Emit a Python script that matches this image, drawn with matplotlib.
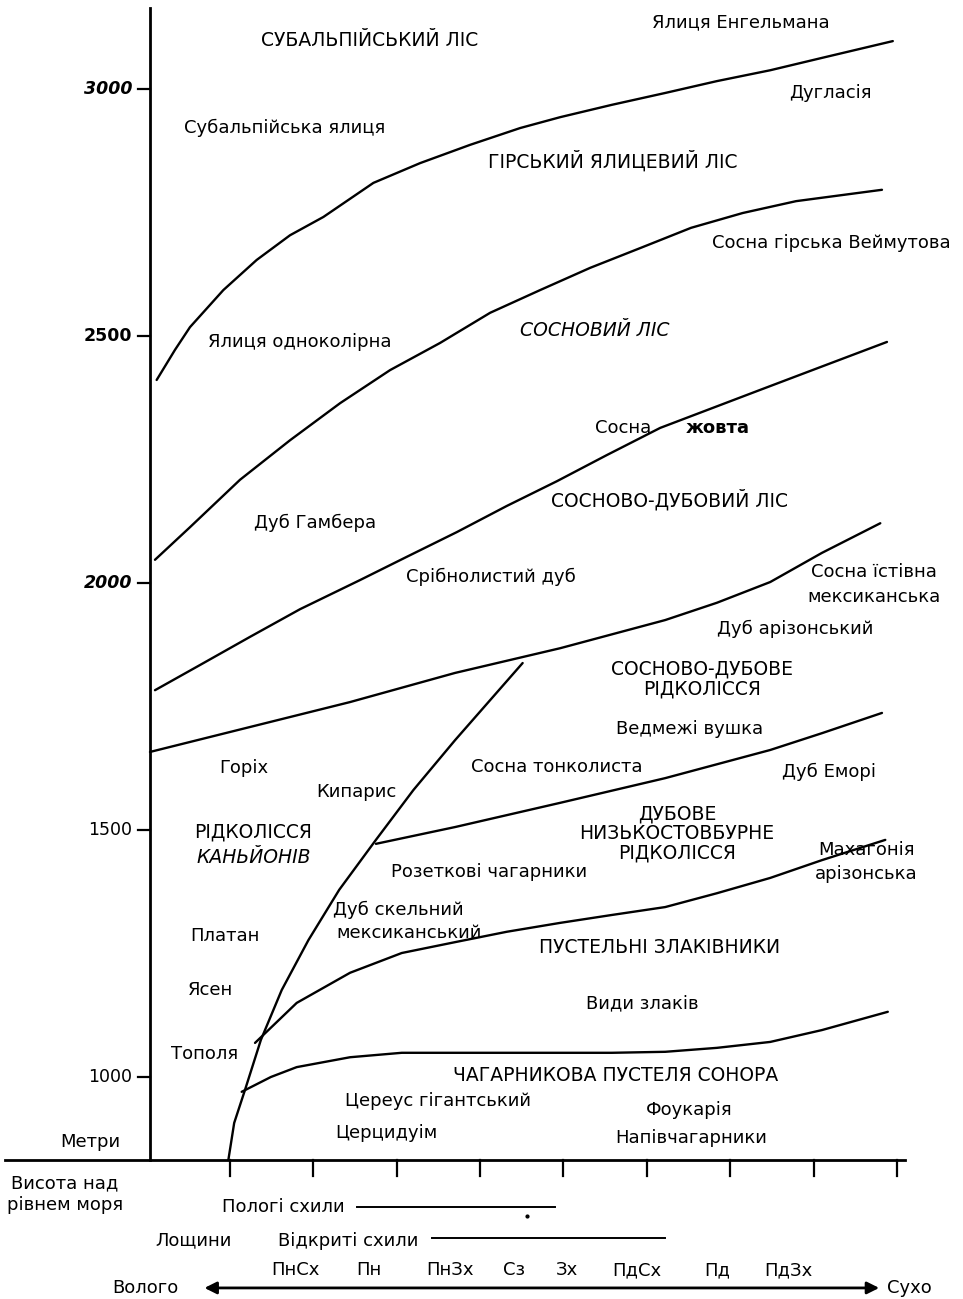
import matplotlib
matplotlib.use("Agg")
import matplotlib.pyplot as plt

plt.rcParams["font.family"] = ["DejaVu Sans"]

# x: exposure / moisture classes (0 = wettest tick, 8 = driest), y: metres a.s.l.
slope_ticks = [0, 1, 2, 3, 4, 5, 6, 7, 8]
elev_ticks = [1000, 1500, 2000, 2500, 3000]
elev_labels = ["1000", "1500", "2000", "2500", "3000"]

subalpine_x = [-0.88, -0.66, -0.48, -0.08, 0.32, 0.72, 1.12, 1.72, 2.28, 2.88, 3.48, 3.96, 4.58, 5.22, 5.84, 6.48, 7.10, 7.95]
subalpine_y = [2411, 2472, 2518, 2593, 2654, 2704, 2741, 2810, 2850, 2887, 2921, 2943, 2968, 2992, 3016, 3038, 3063, 3097]

firs_x = [-0.90, -0.48, 0.12, 0.72, 1.32, 1.92, 2.52, 3.12, 3.72, 4.32, 4.92, 5.53, 6.15, 6.79, 7.82]
firs_y = [2047, 2113, 2209, 2289, 2364, 2431, 2486, 2547, 2593, 2638, 2678, 2719, 2749, 2773, 2796]

pine_x = [-0.90, -0.36, 0.24, 0.84, 1.56, 2.12, 2.72, 3.32, 3.92, 4.52, 5.16, 6.36, 7.08, 7.88]
pine_y = [1783, 1834, 1891, 1947, 2006, 2053, 2103, 2156, 2206, 2259, 2314, 2391, 2437, 2488]

pineoak_x = [-0.96, 0.18, 1.44, 2.70, 3.96, 5.22, 5.84, 6.48, 7.10, 7.80]
pineoak_y = [1658, 1706, 1759, 1818, 1868, 1925, 1960, 2002, 2061, 2121]

canyon_x = [-0.02, 0.05, 0.18, 0.37, 0.62, 0.94, 1.31, 1.75, 2.20, 2.70, 3.51]
canyon_y = [832, 907, 974, 1075, 1176, 1277, 1379, 1480, 1581, 1682, 1838]

oak_x = [1.75, 2.70, 3.96, 5.22, 6.48, 7.10, 7.82]
oak_y = [1472, 1506, 1555, 1605, 1662, 1696, 1737]

grass_x = [0.30, 0.80, 1.44, 2.06, 2.70, 3.32, 3.96, 4.58, 5.22, 5.84, 6.48, 7.10, 7.86]
grass_y = [1069, 1150, 1211, 1251, 1273, 1294, 1312, 1328, 1344, 1372, 1403, 1439, 1480]

desert_x = [0.14, 0.49, 0.80, 1.44, 2.06, 3.32, 4.58, 5.22, 5.84, 6.48, 7.10, 7.89]
desert_y = [970, 1000, 1020, 1040, 1049, 1049, 1049, 1051, 1059, 1071, 1095, 1132]

exposure = ["ПнСх", "Пн", "ПнЗх", "Сз", "Зх", "ПдСх", "Пд", "ПдЗх"]
exposure_x = [0.78, 1.66, 2.64, 3.41, 4.04, 4.88, 5.84, 6.70]

gentle_span = [1.52, 3.90]
open_span = [2.42, 5.22]

fig = plt.figure(figsize=(9.63, 12.99), dpi=100)
ax = fig.add_axes([0, 0, 1, 1])
ax.set_xlim(-2.759, 8.792)
ax.set_ylim(550.6, 3180.2)
ax.axis("off")

base = 832
yaxis_x = -0.96
k = dict(color="black", lw=1.7, solid_capstyle="round", solid_joinstyle="round")

# frame
ax.plot([yaxis_x, yaxis_x], [base, 3164], color="black", lw=2.0)
ax.plot([-2.70, 8.10], [base, base], color="black", lw=2.0)
for t in slope_ticks:
    ax.plot([t, t], [base, 800], color="black", lw=1.6)
for v, lab in zip(elev_ticks, elev_labels):
    ax.plot([-1.10, yaxis_x], [v, v], color="black", lw=1.6)
    if v >= 2000:
        st = "normal" if v == 2500 else "italic"
        ax.text(-1.17, v, lab, ha="right", va="center", fontsize=12.5, fontweight="bold", style=st)
    else:
        ax.text(-1.17, v, lab, ha="right", va="center", fontsize=12.5)

# zone boundaries
for xs, ys in [(subalpine_x, subalpine_y), (firs_x, firs_y), (pine_x, pine_y),
               (pineoak_x, pineoak_y), (canyon_x, canyon_y), (oak_x, oak_y),
               (grass_x, grass_y), (desert_x, desert_y)]:
    ax.plot(xs, ys, **k)

caps = 13.5
sp = 13
# zone names
ax.text(1.68, 3099, "СУБАЛЬПІЙСЬКИЙ ЛІС", fontsize=caps, ha="center", va="center")
ax.text(4.59, 2854, "ГІРСЬКИЙ ЯЛИЦЕВИЙ ЛІС", fontsize=caps, ha="center", va="center")
ax.text(4.38, 2512, "СОСНОВИЙ ЛІС", fontsize=caps, ha="center", va="center", style="italic")
ax.text(5.27, 2168, "СОСНОВО-ДУБОВИЙ ЛІС", fontsize=caps, ha="center", va="center")
ax.text(5.66, 1806, "СОСНОВО-ДУБОВЕ\nРІДКОЛІССЯ", fontsize=caps, ha="center", va="center", linespacing=1.1)
ax.text(5.36, 1493, "ДУБОВЕ\nНИЗЬКОСТОВБУРНЕ\nРІДКОЛІССЯ", fontsize=caps, ha="center", va="center", linespacing=1.05)
ax.text(0.28, 1496, "РІДКОЛІССЯ", fontsize=caps, ha="center", va="center")
ax.text(0.28, 1445, "КАНЬЙОНІВ", fontsize=caps, ha="center", va="center", style="italic")
ax.text(5.15, 1263, "ПУСТЕЛЬНІ ЗЛАКІВНИКИ", fontsize=caps, ha="center", va="center")
ax.text(4.62, 1004, "ЧАГАРНИКОВА ПУСТЕЛЯ СОНОРА", fontsize=caps, ha="center", va="center")

# species
species = [
    (6.13, 3136, "Ялиця Енгельмана"), (7.20, 2992, "Дугласія"),
    (0.66, 2921, "Субальпійська ялиця"), (7.21, 2688, "Сосна гірська Веймутова"),
    (0.84, 2488, "Ялиця одноколірна"), (4.71, 2314, "Сосна"),
    (1.02, 2121, "Дуб Гамбера"), (3.13, 2012, "Срібнолистий дуб"),
    (7.72, 2022, "Сосна їстівна"), (7.72, 1972, "мексиканська"),
    (6.78, 1907, "Дуб арізонський"), (5.51, 1704, "Ведмежі вушка"),
    (0.17, 1626, "Горіх"), (1.52, 1577, "Кипарис"), (3.92, 1628, "Сосна тонколиста"),
    (7.18, 1617, "Дуб Еморі"), (3.11, 1415, "Розеткові чагарники"),
    (7.63, 1460, "Махагонія"), (7.63, 1411, "арізонська"),
    (2.02, 1338, "Дуб скельний"), (2.15, 1291, "мексиканський"),
    (-0.06, 1285, "Платан"), (-0.24, 1176, "Ясен"), (4.94, 1150, "Види злаків"),
    (-0.30, 1047, "Тополя"), (2.49, 951, "Цереус гігантський"), (5.51, 933, "Фоукарія"),
    (1.87, 887, "Церцидуім"), (5.53, 877, "Напівчагарники"),
]
for x, y, s in species:
    ax.text(x, y, s, fontsize=sp, ha="center", va="center")
ax.text(5.85, 2314, "жовта", fontsize=sp, ha="center", va="center", fontweight="bold")

# bottom legend
ax.text(-1.68, 868, "Метри", fontsize=sp, ha="center", va="center")
ax.text(-1.98, 763, "Висота над\nрівнем моря", fontsize=sp, ha="center", va="center", linespacing=1.25)
ax.text(0.64, 737, "Пологі схили", fontsize=sp, ha="center", va="center")
ax.plot(gentle_span, [737, 737], color="black", lw=1.4)
ax.plot([3.56], [719], marker="o", ms=2, color="black")
ax.text(-0.44, 670, "Лощини", fontsize=sp, ha="center", va="center")
ax.text(1.42, 668, "Відкриті схили", fontsize=sp, ha="center", va="center")
ax.plot(open_span, [674, 674], color="black", lw=1.4)
for x, s in zip(exposure_x, exposure):
    ax.text(x, 609, s, fontsize=sp, ha="center", va="center")
ax.annotate("", xy=(-0.34, 573), xytext=(7.82, 573),
            arrowprops=dict(arrowstyle="<|-|>", color="black", lw=2.0, mutation_scale=18))
ax.text(-0.62, 573, "Волого", fontsize=sp, ha="right", va="center")
ax.text(7.88, 573, "Сухо", fontsize=sp, ha="left", va="center")

fig.savefig("out.png", dpi=100)
